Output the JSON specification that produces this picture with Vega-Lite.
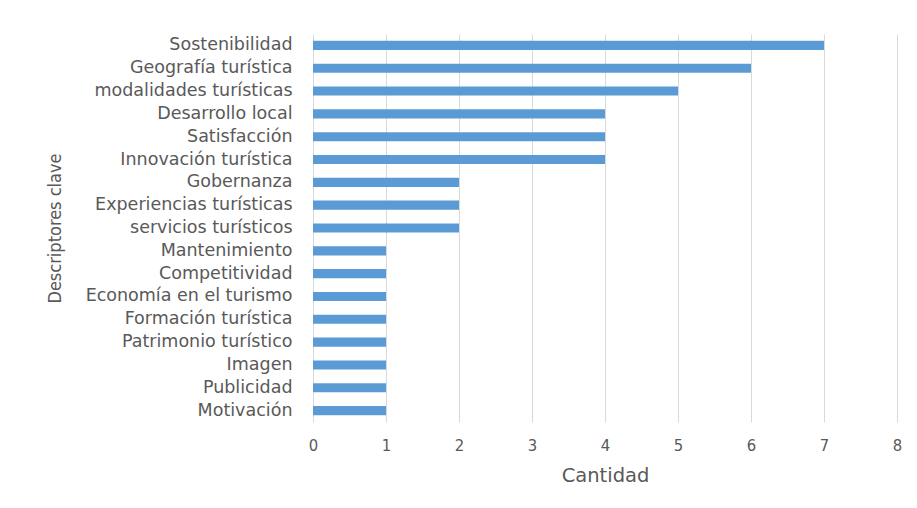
{
  "$schema": "https://vega.github.io/schema/vega-lite/v6.json",
  "autosize": "none",
  "padding": {"left": 313, "top": 34, "right": 20, "bottom": 86},
  "width": 584,
  "height": 388,
  "background": "white",
  "config": {
    "view": {"stroke": null},
    "font": "DejaVu Sans"
  },
  "data": {
    "values": [
      {"descriptor": "Sostenibilidad", "cantidad": 7},
      {"descriptor": "Geografía turística", "cantidad": 6},
      {"descriptor": "modalidades turísticas", "cantidad": 5},
      {"descriptor": "Desarrollo local", "cantidad": 4},
      {"descriptor": "Satisfacción", "cantidad": 4},
      {"descriptor": "Innovación turística", "cantidad": 4},
      {"descriptor": "Gobernanza", "cantidad": 2},
      {"descriptor": "Experiencias turísticas", "cantidad": 2},
      {"descriptor": "servicios turísticos", "cantidad": 2},
      {"descriptor": "Mantenimiento", "cantidad": 1},
      {"descriptor": "Competitividad", "cantidad": 1},
      {"descriptor": "Economía en el turismo", "cantidad": 1},
      {"descriptor": "Formación turística", "cantidad": 1},
      {"descriptor": "Patrimonio turístico", "cantidad": 1},
      {"descriptor": "Imagen", "cantidad": 1},
      {"descriptor": "Publicidad", "cantidad": 1},
      {"descriptor": "Motivación", "cantidad": 1}
    ]
  },
  "mark": {"type": "bar", "color": "#5B9BD5"},
  "encoding": {
    "y": {
      "field": "descriptor",
      "type": "nominal",
      "sort": null,
      "scale": {"paddingInner": 0.6, "paddingOuter": 0.3},
      "axis": {
        "title": "Descriptores clave",
        "titleFont": "DejaVu Sans Condensed",
        "titleFontSize": 18,
        "titleFontWeight": "normal",
        "titleColor": "#595959",
        "titleX": -258,
        "titleY": 194,
        "titleAngle": -90,
        "titleAlign": "center",
        "titleBaseline": "middle",
        "labelFont": "DejaVu Sans",
        "labelFontSize": 17.5,
        "labelColor": "#595959",
        "labelPadding": 21,
        "labelLimit": 300,
        "ticks": false,
        "domain": false,
        "grid": false
      }
    },
    "x": {
      "field": "cantidad",
      "type": "quantitative",
      "scale": {"domain": [0, 8]},
      "axis": {
        "title": "Cantidad",
        "titleFont": "DejaVu Sans",
        "titleFontSize": 19.5,
        "titleFontWeight": "normal",
        "titleColor": "#595959",
        "titlePadding": 13,
        "values": [0, 1, 2, 3, 4, 5, 6, 7, 8],
        "labelFont": "DejaVu Sans Condensed",
        "labelFontSize": 16.5,
        "labelColor": "#595959",
        "labelPadding": 15,
        "labelFlush": false,
        "ticks": false,
        "domain": false,
        "grid": true,
        "gridColor": "#D9D9D9",
        "gridWidth": 1
      }
    }
  }
}
